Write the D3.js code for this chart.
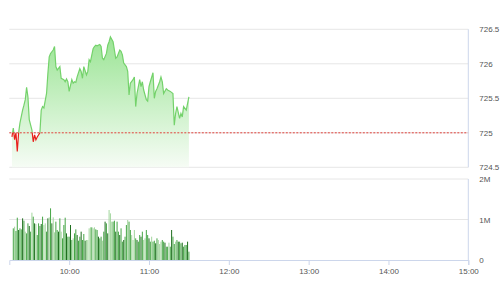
<!DOCTYPE html>
<html>
<head>
<meta charset="utf-8">
<script src="https://cdn.jsdelivr.net/npm/d3@7"></script>
<style>
  body { margin: 0; background: #fff; }
  svg { display: block; font-family: "Liberation Sans", Arial, sans-serif; }
</style>
</head>
<body>
<div id="chart"></div>
<script>
// intraday index, morning session
const priceTimes = [
  '09:17','09:18','09:19','09:20','09:21','09:22','09:23','09:25','09:26','09:27',
  '09:28','09:29','09:30','09:32','09:33','09:34','09:35','09:36','09:38','09:39',
  '09:40','09:41','09:43','09:44','09:45','09:46','09:48','09:49','09:50','09:51',
  '09:53','09:54','09:56','09:57','09:58','09:59','10:00','10:02','10:03','10:04',
  '10:05','10:06','10:08','10:09','10:10','10:11','10:13','10:14','10:15','10:16',
  '10:18','10:19','10:20','10:21','10:23','10:24','10:25','10:26','10:28','10:29',
  '10:30','10:31','10:33','10:34','10:35','10:36','10:38','10:39','10:40','10:41',
  '10:43','10:44','10:45','10:46','10:48','10:49','10:50','10:51','10:53','10:54',
  '10:55','10:56','10:58','10:59','11:00','11:01','11:03','11:04','11:05','11:06',
  '11:08','11:09','11:10','11:11','11:13','11:14','11:15','11:16','11:18','11:19',
  '11:20','11:21','11:23','11:24','11:25','11:26','11:28','11:30'
];
const prices = [
  724.94, 725.07, 724.90, 725.00, 724.73, 725.00, 725.14, 725.33, 725.40, 725.48,
  725.66, 725.52, 725.19, 725.04, 724.87, 724.97, 724.90, 724.94, 725.00, 725.33,
  725.38, 725.36, 725.57, 725.86, 726.10, 726.15, 726.20, 726.25, 725.96, 725.91,
  725.96, 725.79, 725.77, 725.74, 725.78, 725.74, 725.60, 725.77, 725.72, 725.74,
  725.73, 725.81, 725.93, 725.89, 725.79, 725.96, 725.84, 725.89, 726.06, 726.03,
  726.22, 726.25, 726.27, 726.26, 726.28, 726.25, 726.08, 726.06, 726.15, 726.27,
  726.32, 726.39, 726.32, 726.20, 726.08, 726.10, 726.20, 726.18, 726.13, 726.01,
  725.96, 725.89, 725.55, 725.72, 725.77, 725.81, 725.38, 725.57, 725.77, 725.67,
  725.74, 725.62, 725.48, 725.46, 725.67, 725.74, 725.87, 725.50, 725.60, 725.64,
  725.74, 725.81, 725.74, 725.57, 725.64, 725.62, 725.61, 725.60, 725.57, 725.11,
  725.28, 725.38, 725.21, 725.28, 725.23, 725.38, 725.33, 725.52
];
const refPrice = 725;
const priceTicks = [724.5, 725, 725.5, 726, 726.5];

// volume per minute (thousand shares), first bar at volStart
const volStart = '09:18';
const volumes = [
   782,  823,  716, 1045,  741,  782,  757, 1029,  971,  700,
   658,  905,  840,  700, 1169, 1070,  905,  889,  617,  905,
   840,  889, 1070,  864,  905,  700, 1029, 1053, 1276,  905,
  1053,  683,  947,  741,  700, 1029,  700,  535,  864, 1045,
   658,  576,  576,  864,  494,  535,  658,  757,  617,  477,
   576,  700,  494,  642,  477,  494,  494,  782,  807,  807,
   782,  807,  757,  741,  576,  535,  576,  477,  700,  947,
   905,  658, 1235, 1152,  947,  947,  971,  700,  947,  700,
   617,  782,  453,  494,  576,  864,  988,  947,  741,  617,
   494,  741,  535,  494,  453,  617,  576,  700,  494,  535,
   741,  617,  535,  453,  576,  453,  477,  412,  535,  494,
   395,  453,  494,  453,  428,  329,  329,  428,  329,  741,
   576,  395,  453,  494,  453,  453,  412,  428,  329,  370,
   370,  453,  206
];
// d = dark, m = medium, l = light bar
const volKinds = (
  'mlmmdmmdml' + 'mmdmlmdlmm' + 'mdmllmdlmd' + 'llmmdmlmmm' + 'dmmdmlmmdm' +
  'mdmmdllllm' + 'llmmdmmlmd' + 'mdlllmmdmm' + 'dmmdmmlmml' + 'llmdmmdmll' +
  'mmdmlmmdml' + 'llmmdmmlmd' + 'mmlmdmmdmm' + 'mdm'
).split('');
const volTicks = [0, 1000, 2000];
const volTickLabels = ['0', '1M', '2M'];

const hourTicks = ['10:00', '11:00', '12:00', '13:00', '14:00', '15:00'];
const sessionStart = '09:15';
const sessionEnd = '15:00';

const parse = d3.timeParse('%H:%M');
const width = 501, height = 300;
const left = 9.3, right = 468.3;

const svg = d3.select('#chart').append('svg')
  .attr('width', width)
  .attr('height', height);

const x = d3.scaleTime()
  .domain([parse(sessionStart), parse(sessionEnd)])
  .range([left, right]);
const yP = d3.scaleLinear().domain([724.5, 726.5]).range([167.3, 29.3]);
const yV = d3.scaleLinear().domain([0, 2000]).range([260, 179]);

const priceData = priceTimes.map((t, i) => ({ t: parse(t), v: prices[i] }));
const t0 = parse(volStart);
const volData = volumes.map((v, i) => ({ t: d3.timeMinute.offset(t0, i), v, k: volKinds[i] }));

const defs = svg.append('defs');
const grad = defs.append('linearGradient')
  .attr('id', 'fillGrad')
  .attr('gradientUnits', 'userSpaceOnUse')
  .attr('x1', 0).attr('x2', 0)
  .attr('y1', yP(726.4)).attr('y2', yP(724.5));
grad.append('stop').attr('offset', 0).attr('stop-color', '#9ae494');
grad.append('stop').attr('offset', 1).attr('stop-color', '#f6fcf5');

defs.append('clipPath').attr('id', 'clipUp')
  .append('rect').attr('x', 0).attr('y', 0).attr('width', width).attr('height', yP(refPrice));
defs.append('clipPath').attr('id', 'clipDown')
  .append('rect').attr('x', 0).attr('y', yP(refPrice)).attr('width', width).attr('height', height);

// gridlines
svg.append('g')
  .selectAll('line')
  .data(priceTicks)
  .join('line')
    .attr('x1', left).attr('x2', right)
    .attr('y1', d => yP(d)).attr('y2', d => yP(d))
    .attr('stroke', '#e6e6e6');
svg.append('g')
  .selectAll('line')
  .data(volTicks.slice(1))
  .join('line')
    .attr('x1', left).attr('x2', right)
    .attr('y1', d => yV(d)).attr('y2', d => yV(d))
    .attr('stroke', '#e6e6e6');

// price area + line
const area = d3.area()
  .x(d => x(d.t))
  .y0(yP(724.5))
  .y1(d => yP(d.v));
svg.append('path')
  .datum(priceData)
  .attr('d', area)
  .attr('fill', 'url(#fillGrad)');

const line = d3.line().x(d => x(d.t)).y(d => yP(d.v));
svg.append('path')
  .datum(priceData)
  .attr('d', line)
  .attr('fill', 'none')
  .attr('stroke', '#74d26b')
  .attr('stroke-width', 1.2)
  .attr('clip-path', 'url(#clipUp)');
svg.append('path')
  .datum(priceData)
  .attr('d', line)
  .attr('fill', 'none')
  .attr('stroke', '#e8201c')
  .attr('stroke-width', 1.2)
  .attr('clip-path', 'url(#clipDown)');

// reference line
svg.append('line')
  .attr('x1', left).attr('x2', right)
  .attr('y1', yP(refPrice)).attr('y2', yP(refPrice))
  .attr('stroke', '#e0403a')
  .attr('stroke-dasharray', '2,1.5');

// volume bars
const barColor = { d: '#1f6e1f', m: '#46a646', l: '#a3d69e' };
svg.append('g')
  .selectAll('rect')
  .data(volData)
  .join('rect')
    .attr('x', d => x(d.t) - 0.5)
    .attr('y', d => yV(d.v))
    .attr('width', 1)
    .attr('height', d => yV(0) - yV(d.v))
    .attr('fill', d => barColor[d.k]);

// axis lines
const axisColor = '#ccd6eb';
svg.append('line')
  .attr('x1', right).attr('x2', right)
  .attr('y1', yP(726.5)).attr('y2', yP(724.5))
  .attr('stroke', axisColor);
svg.append('line')
  .attr('x1', right).attr('x2', right)
  .attr('y1', yV(2000)).attr('y2', yV(0))
  .attr('stroke', axisColor);

const labelColor = '#555';

const xAxis = svg.append('g')
  .attr('transform', `translate(0,${yV(0)})`)
  .call(d3.axisBottom(x)
    .tickValues(hourTicks.map(parse))
    .tickFormat(d3.timeFormat('%H:%M'))
    .tickSize(5)
    .tickPadding(3));
xAxis.select('.domain').attr('stroke', axisColor);
xAxis.selectAll('.tick line').attr('stroke', axisColor);
xAxis.selectAll('text').attr('fill', labelColor).style('font-size', '8px');

const yAxisP = svg.append('g')
  .attr('transform', `translate(${right},0)`)
  .call(d3.axisRight(yP)
    .tickValues(priceTicks)
    .tickFormat(d => String(d))
    .tickSize(0)
    .tickPadding(11));
yAxisP.select('.domain').remove();
yAxisP.selectAll('text').attr('fill', labelColor).style('font-size', '8px');

const yAxisV = svg.append('g')
  .attr('transform', `translate(${right},0)`)
  .call(d3.axisRight(yV)
    .tickValues(volTicks)
    .tickFormat((d, i) => volTickLabels[i])
    .tickSize(0)
    .tickPadding(11));
yAxisV.select('.domain').remove();
yAxisV.selectAll('text').attr('fill', labelColor).style('font-size', '8px');
</script>
</body>
</html>
